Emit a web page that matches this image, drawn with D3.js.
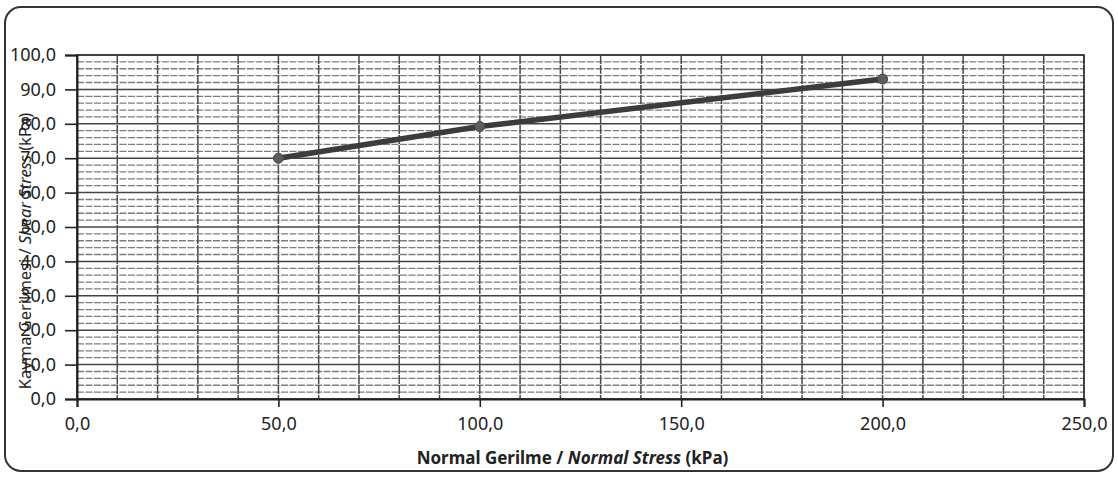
<!DOCTYPE html>
<html>
<head>
<meta charset="utf-8">
<script src="https://cdn.jsdelivr.net/npm/d3@7"></script>
<style>
  html, body { margin: 0; padding: 0; background: #fff; }
  svg { display: block; }
  text { font-family: "Noto Sans", "Open Sans", sans-serif; fill: #222; }
</style>
</head>
<body>
<svg id="chart" width="1118" height="477"></svg>
<script>
// ---- data ----
const normalStress = [50, 100, 200];
const shearStress = [70.0, 79.2, 93.0];
const xTickValues = [0, 50, 100, 150, 200, 250];
const xTickLabels = ["0,0", "50,0", "100,0", "150,0", "200,0", "250,0"];
const yTickValues = [0, 10, 20, 30, 40, 50, 60, 70, 80, 90, 100];
const yTickLabels = ["0,0", "10,0", "20,0", "30,0", "40,0", "50,0", "60,0", "70,0", "80,0", "90,0", "100,0"];
const xGridStep = 10;
const yMinorStep = 2;

// ---- layout ----
const W = 1118, H = 477;
const plot = { left: 77, right: 1084, top: 55, bottom: 399 };
const svg = d3.select("#chart");

// outer rounded frame
svg.append("rect")
  .attr("x", 5).attr("y", 7).attr("width", W - 10).attr("height", H - 13)
  .attr("rx", 16).attr("ry", 16)
  .attr("fill", "#fff").attr("stroke", "#333").attr("stroke-width", 2);

const x = d3.scaleLinear().domain([0, 250]).range([plot.left, plot.right]);
const y = d3.scaleLinear().domain([0, 100]).range([plot.bottom, plot.top]);

const g = svg.append("g");

// minor horizontal grid (every 2)
const minorY = d3.range(0, 100 + 0.001, yMinorStep).filter(v => v % 10 !== 0);
g.selectAll("line.minor").data(minorY).enter().append("line")
  .attr("x1", plot.left).attr("x2", plot.right)
  .attr("y1", d => y(d)).attr("y2", d => y(d))
  .attr("stroke", "#7d7d7d").attr("stroke-width", 1.3)
  .attr("stroke-dasharray", "7,1.5");

// major horizontal grid (every 10)
g.selectAll("line.majorY").data(yTickValues).enter().append("line")
  .attr("x1", plot.left).attr("x2", plot.right)
  .attr("y1", d => y(d)).attr("y2", d => y(d))
  .attr("stroke", "#444").attr("stroke-width", 1.5);

// vertical grid (every 10)
const vGrid = d3.range(0, 250 + 0.001, xGridStep);
g.selectAll("line.v").data(vGrid).enter().append("line")
  .attr("x1", d => x(d)).attr("x2", d => x(d))
  .attr("y1", plot.top).attr("y2", plot.bottom)
  .attr("stroke", "#4a4a4a").attr("stroke-width", 1.5)
  .attr("stroke-dasharray", "9,1");

// plot border
g.append("rect")
  .attr("x", plot.left).attr("y", plot.top)
  .attr("width", plot.right - plot.left).attr("height", plot.bottom - plot.top)
  .attr("fill", "none").attr("stroke", "#333").attr("stroke-width", 1.6);

// axes
const xAxis = d3.axisBottom(x).tickValues(xTickValues)
  .tickFormat((d, i) => xTickLabels[i]).tickSize(8).tickPadding(10);
const yAxis = d3.axisLeft(y).tickValues(yTickValues)
  .tickFormat((d, i) => yTickLabels[i]).tickSize(12).tickPadding(9);

const gx = svg.append("g").attr("transform", `translate(0,${plot.bottom})`).call(xAxis);
const gy = svg.append("g").attr("transform", `translate(${plot.left},0)`).call(yAxis);
[gx, gy].forEach(a => {
  a.select(".domain").attr("stroke", "#222").attr("stroke-width", 2);
  a.selectAll(".tick line").attr("stroke", "#222").attr("stroke-width", 1.6);
  a.selectAll(".tick text").attr("font-size", 18).attr("fill", "#222")
    .style("font-family", '"Noto Sans", sans-serif');
});

// data line
const line = d3.line().x((d, i) => x(normalStress[i])).y(d => y(d));
svg.append("path").datum(shearStress)
  .attr("d", line).attr("fill", "none")
  .attr("stroke", "#3a3d3d").attr("stroke-width", 5.5).attr("stroke-linecap", "round");
svg.selectAll("circle.pt").data(shearStress).enter().append("circle")
  .attr("cx", (d, i) => x(normalStress[i])).attr("cy", d => y(d)).attr("r", 5)
  .attr("fill", "#5a5e5e").attr("stroke", "#444").attr("stroke-width", 1);

// x title
const xt = svg.append("text")
  .attr("x", (plot.left + plot.right) / 2 - 8).attr("y", 464)
  .attr("text-anchor", "middle").attr("font-size", 17).attr("font-weight", "bold");
xt.append("tspan").text("Normal Gerilme / ");
xt.append("tspan").attr("font-style", "italic").text("Normal Stress");
xt.append("tspan").text(" (kPa)");

// y title
const yt = svg.append("text")
  .attr("transform", `translate(31,${(plot.top + plot.bottom) / 2 + 24}) rotate(-90)`)
  .attr("text-anchor", "middle").attr("font-size", 16.5);
yt.append("tspan").text("Kayma Gerilmesi / ");
yt.append("tspan").attr("font-style", "italic").text("Shear Stress");
yt.append("tspan").text(" (kPa)");
</script>
</body>
</html>
